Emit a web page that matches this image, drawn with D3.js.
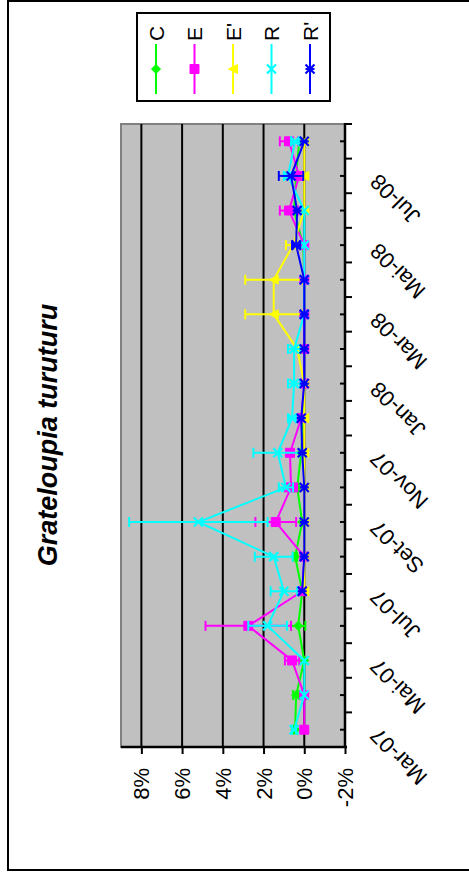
<!DOCTYPE html>
<html><head><meta charset="utf-8">
<script src="https://cdn.jsdelivr.net/npm/d3@7"></script>
<style>
html,body{margin:0;padding:0;background:#fff;}
svg{display:block;font-family:"Liberation Sans",Arial,sans-serif;}
</style></head>
<body>
<svg id="chart" width="469" height="875"></svg>
<script>
const months = ["Mar-07","Abr-07","Mai-07","Jun-07","Jul-07","Ago-07","Set-07","Out-07","Nov-07","Dez-07","Jan-08","Fev-08","Mar-08","Abr-08","Mai-08","Jun-08","Jul-08","Ago-08"];
const shownLabels = ["Mar-07","Mai-07","Jul-07","Set-07","Nov-07","Jan-08","Mar-08","Mai-08","Jul-08"];
const valueTicks = [-2,0,2,4,6,8];
const gridValues = [0,2,4,6,8];
const title = "Grateloupia turuturu";

const seriesNames = ["C","E","E'","R","R'"];
const seriesColors = ["#00FF00","#FF00FF","#FFFF00","#00FFFF","#0000FF"];
const seriesMarkers = ["diamond","square","triangle","x","star"];

const C_vals  = [0.45,0.4,0.0,0.3,0.1,0.45,0.1,0.35,0.15,0.05,0,0,0,0,0.05,0.5,0.4,0.25];
const C_err   = [0.1,0.15,0,0.35,0,0.1,0,0.1,0,0,0,0,0,0,0,0,0,0];
const E_vals  = [0,0,0.6,2.75,0.1,0.0,1.4,0.65,0.7,0.15,0,0,0,0,0,0.75,0.25,0.75];
const E_err   = [0,0,0.35,2.1,0,0,1.0,0.3,0,0,0,0,0,0,0,0.45,0,0.45];
const E2_vals = [null,null,null,null,0,0,0,0,0,0,0,0.35,1.5,1.5,0.55,0,0,0];
const E2_err  = [0,0,0,0,0,0,0,0,0,0,0,0,1.4,1.4,0.35,0,0,0];
const R_vals  = [0.5,0,0,1.8,1.0,1.5,5.2,0.9,1.3,0.6,0.5,0.5,0,0,0,0,0.8,0.45];
const R_err   = [0.1,0,0,0.95,0.65,0.93,3.4,0.35,1.2,0.2,0.3,0.3,0,0,0,0,0.2,0.2];
const R2_vals = [null,null,null,null,0.1,0,0,0,0.1,0.15,0,0,0,0,0.4,0.35,0.65,0];
const R2_err  = [0,0,0,0,0,0,0,0,0,0,0,0,0,0,0.2,0,0.6,0];

const seriesVals = [C_vals,E_vals,E2_vals,R_vals,R2_vals];
const seriesErrs = [C_err,E_err,E2_err,R_err,R2_err];

const svg = d3.select("#chart");
const font = "Liberation Sans, Arial, sans-serif";

// outer frame (right edge lies beyond the picture)
svg.append("rect").attr("x",8).attr("y",1).attr("width",470).attr("height",869)
  .attr("fill","none").attr("stroke","#000").attr("stroke-width",2);

// plot geometry (chart is rotated: values run horizontally, months vertically)
const plotLeft = 121, plotRight = 345, plotTop = 124, plotBottom = 747;
const x = d3.scaleLinear().domain([-2,9]).range([plotRight, plotLeft]);
const y = d3.scaleBand().domain(months).range([plotBottom, plotTop]).paddingInner(0).paddingOuter(0);
const bw = y.bandwidth();
const yc = m => y(m) + bw/2;

svg.append("rect").attr("x",plotLeft).attr("y",plotTop)
  .attr("width",plotRight-plotLeft).attr("height",plotBottom-plotTop)
  .attr("fill","#C0C0C0").attr("stroke","#808080").attr("stroke-width",2);

// gridlines
svg.append("g").selectAll("line").data(gridValues).join("line")
  .attr("x1",d=>x(d)).attr("x2",d=>x(d)).attr("y1",plotTop).attr("y2",plotBottom)
  .attr("stroke","#000").attr("stroke-width",2);

// value axis (bottom)
const xAxis = d3.axisBottom(x).tickValues(valueTicks).tickFormat(d=>d+"%").tickSizeInner(7).tickSizeOuter(0);
const gx = svg.append("g").attr("transform",`translate(0,${plotBottom})`).call(xAxis);
gx.select(".domain").attr("stroke","#000").attr("stroke-width",2.5)
  .attr("d",`M${plotLeft},0H${plotRight+2}`);
gx.selectAll(".tick line").attr("stroke","#000").attr("stroke-width",2);
gx.selectAll(".tick text")
  .attr("font-family",font).attr("font-size",22).attr("fill","#000")
  .attr("text-anchor","end").attr("dy",null).attr("y",null)
  .attr("dominant-baseline","central")
  .attr("transform","translate(0,21) rotate(-90)");

// category axis (right side)
const gy = svg.append("g");
gy.append("line").attr("x1",plotRight).attr("x2",plotRight).attr("y1",plotTop-1).attr("y2",plotBottom+1)
  .attr("stroke","#000").attr("stroke-width",2.5);
gy.selectAll("line.major").data(months.map(m=>y(m)).concat([plotTop])).join("line").attr("class","major")
  .attr("x1",plotRight).attr("x2",plotRight+7).attr("y1",d=>d).attr("y2",d=>d)
  .attr("stroke","#000").attr("stroke-width",2);
gy.selectAll("line.minor").data(months).join("line").attr("class","minor")
  .attr("x1",plotRight-5).attr("x2",plotRight).attr("y1",d=>yc(d)).attr("y2",d=>yc(d))
  .attr("stroke","#000").attr("stroke-width",2);
gy.selectAll("text").data(shownLabels).join("text")
  .attr("font-family",font).attr("font-size",22).attr("fill","#000")
  .attr("text-anchor","end").attr("dominant-baseline","central")
  .attr("transform",d=>`translate(${plotRight+29},${yc(d)+2}) rotate(-135)`)
  .text(d=>d);

// markers
function markerPath(type, s){
  switch(type){
    case "diamond": return `M${-s},0L0,${-s}L${s},0L0,${s}Z`;
    case "square": return `M${-s},${-s}H${s}V${s}H${-s}Z`;
    case "triangle": return `M${-s},0L${s},${-s}L${s},${s}Z`;
    case "x": return `M${-s},${-s}L${s},${s}M${-s},${s}L${s},${-s}`;
    case "star": return `M${-s},${-s}L${s},${s}M${-s},${s}L${s},${-s}M${-s},0H${s}`;
  }
}
function drawMarker(g, type, color, px, py){
  const filled = (type==="diamond"||type==="square"||type==="triangle");
  const s = type==="square"?4.5:(type==="diamond"?4.5:4.5);
  g.append("path").attr("d",markerPath(type,s)).attr("transform",`translate(${px},${py})`)
    .attr("fill",filled?color:"none").attr("stroke",color).attr("stroke-width",filled?1:2.2);
}

const line = d3.line().defined(d=>d.v!==null).x(d=>x(d.v)).y(d=>yc(d.m));

seriesNames.forEach((name,i)=>{
  const color = seriesColors[i];
  const data = months.map((m,k)=>({m, v: seriesVals[i][k], e: seriesErrs[i][k]}));
  const g = svg.append("g");
  // error bars
  data.filter(d=>d.v!==null && d.e>0).forEach(d=>{
    const cy = yc(d.m);
    g.append("line").attr("x1",x(d.v-d.e)).attr("x2",x(d.v+d.e)).attr("y1",cy).attr("y2",cy)
      .attr("stroke",color).attr("stroke-width",2);
    [d.v-d.e, d.v+d.e].forEach(v=>{
      g.append("line").attr("x1",x(v)).attr("x2",x(v)).attr("y1",cy-5).attr("y2",cy+5)
        .attr("stroke",color).attr("stroke-width",2);
    });
  });
  g.append("path").datum(data).attr("d",line).attr("fill","none").attr("stroke",color).attr("stroke-width",2);
  data.filter(d=>d.v!==null).forEach(d=>drawMarker(g, seriesMarkers[i], color, x(d.v), yc(d.m)));
});

// legend
const lg = svg.append("g");
lg.append("rect").attr("x",137).attr("y",13).attr("width",193).attr("height",88)
  .attr("fill","#fff").attr("stroke","#000").attr("stroke-width",2);
const legX = d3.scalePoint().domain(seriesNames).range([156,310]);
seriesNames.forEach((name,i)=>{
  const lx = legX(name);
  lg.append("line").attr("x1",lx).attr("x2",lx).attr("y1",44).attr("y2",94)
    .attr("stroke",seriesColors[i]).attr("stroke-width",2);
  drawMarker(lg, seriesMarkers[i], seriesColors[i], lx, 69);
  lg.append("text").attr("font-family",font).attr("font-size",21).attr("fill","#000")
    .attr("text-anchor","start").attr("dominant-baseline","central")
    .attr("transform",`translate(${lx},41) rotate(-90)`).text(name);
});

// title
svg.append("text").attr("font-family",font).attr("font-size",27).attr("font-weight","bold")
  .attr("font-style","italic").attr("fill","#000").attr("text-anchor","middle")
  .attr("dominant-baseline","central")
  .attr("transform","translate(48,435) rotate(-90)").text(title);
</script>
</body></html>
